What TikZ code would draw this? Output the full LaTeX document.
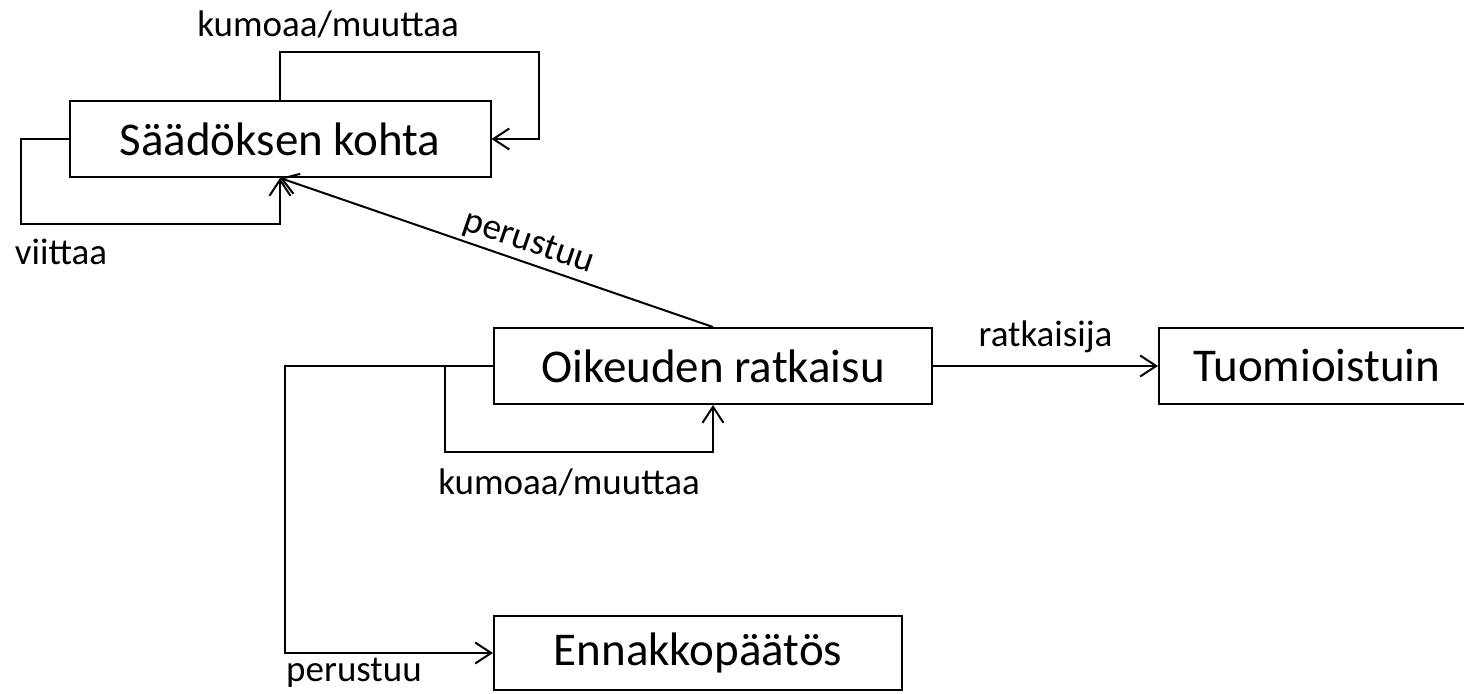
\documentclass[tikz,border=0pt]{standalone}
\usepackage{fontspec}
\setmainfont{Carlito}
\usepackage{tikz}
\usetikzlibrary{arrows.meta}

\begin{document}
\begin{tikzpicture}[x=0.5pt, y=-0.5pt, every node/.style={font=\fontsize{18.5}{22}\selectfont}]
\tikzset{box/.style={draw, line width=1pt, align=center, inner sep=0pt, minimum height=38pt, font=\fontsize{23.5}{28}\selectfont}}
\tikzset{arrow/.style={-{Straight Barb[length=8pt, width=10.5pt]}, line width=1pt}}
\useasboundingbox (0,0) rectangle (1464,694);
\clip (0,0) rectangle (1464,694);
\node[box, minimum width=210.5pt] (saad) at (280,139) {Säädöksen kohta};
\node[box, minimum width=219pt] (oik) at (713,366) {Oikeuden ratkaisu};
\node[box, minimum width=158pt] (tuo) at (1317,366) {Tuomioistuin};
\node[box, minimum width=204pt, minimum height=37pt] (enn) at (698,653) {Ennakkopäätös};
\node (kumS) at (328,24) {kumoaa/muuttaa};
\node (viit) at (61,252) {viittaa};
\node (kumO) at (569,482) {kumoaa/muuttaa};
\node (per) at (354,673) {perustuu};
\draw[arrow] (saad.north) |- ++(259,-48) |- (saad.east);
\draw[arrow] (saad.west) -| ++(-48,85) -| (saad.south);
\draw[arrow] (oik.north) -- node[sloped, above, pos=0.44, inner sep=2pt] {perustuu} (saad.south);
\draw[arrow] (oik.east) -- node[above, inner sep=6pt] {ratkaisija} (tuo.west);
\draw[arrow] (oik.west) -| ++(-48,86) -| (oik.south);
\draw[arrow] (oik.west) -| ++(-208,287) -- (enn.west);
\end{tikzpicture}
\end{document}
